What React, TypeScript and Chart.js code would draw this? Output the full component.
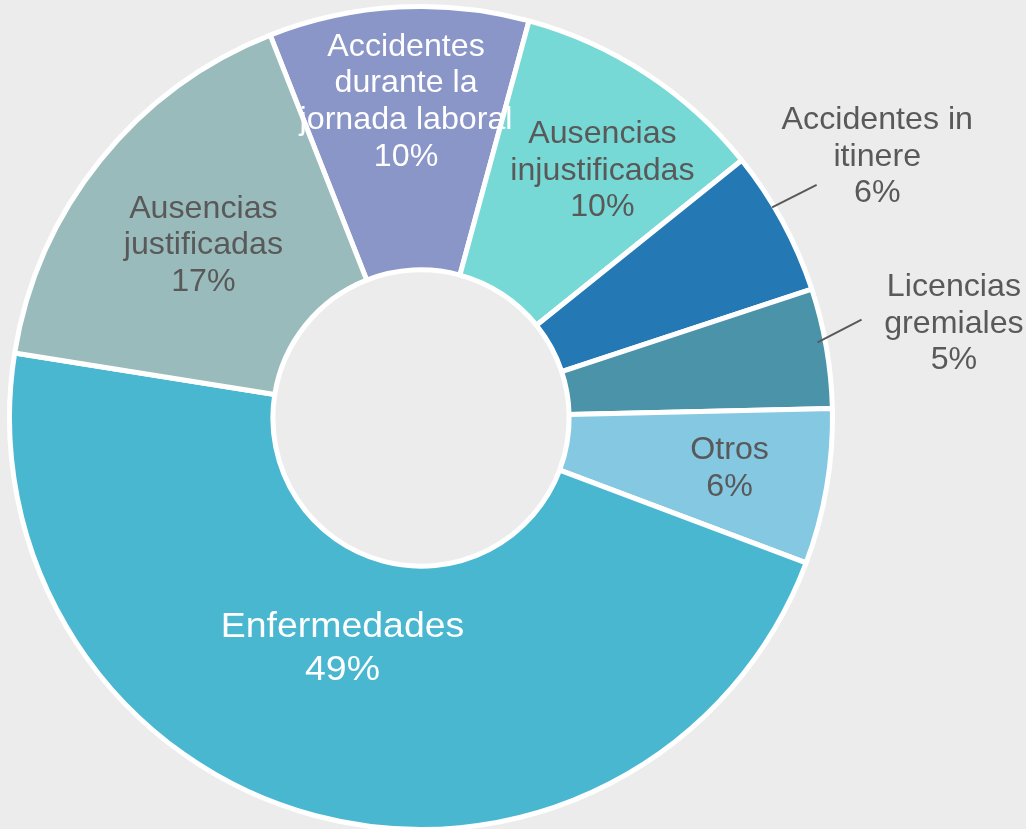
import React, { useEffect, useRef } from "react";
import { Chart, registerables } from "chart.js";

Chart.register(...registerables);

// Categories (split into display lines)
const categoryLines: string[][] = [
  ["Accidentes", "durante la", "jornada laboral"],
  ["Ausencias", "injustificadas"],
  ["Accidentes in", "itinere"],
  ["Licencias", "gremiales"],
  ["Otros"],
  ["Enfermedades"],
  ["Ausencias", "justificadas"],
];
const categories = categoryLines.map((l) => l.join(" "));

// Slice values (share of total, %)
const values = [10.2, 10.0, 5.7, 4.7, 6.1, 46.8, 16.5];

// Percent labels shown in the chart
const percentLabels = ["10%", "10%", "6%", "5%", "6%", "49%", "17%"];

const sliceColors = [
  "#8a95c8",
  "#76d9d5",
  "#2479b4",
  "#4b93a8",
  "#84c8e2",
  "#4ab7d1",
  "#99bbbb",
];

const labelColors = [
  "#ffffff",
  "#595959",
  "#595959",
  "#595959",
  "#595959",
  "#ffffff",
  "#595959",
];

// label placement relative to each slice's mid angle: angle offset (deg), radius fraction
const labelAngleOffset = [0.45, 2.84, -1.45, -0.43, -0.75, 4.17, -0.06];
const labelRadiusFrac = [0.774, 0.749, 1.28, 1.316, 0.759, 0.585, 0.678];
const labelFontSize = [30.5, 30.5, 30.5, 30.5, 30.5, 35.5, 30.5];
const labelLineHeight = [36.7, 36.7, 36.7, 36.7, 36.7, 43.3, 36.7];

// leader lines for outside labels: [startAngleOff, startRadFrac, endAngleOff, endRadFrac]
const leaderLines: (number[] | null)[] = [
  null,
  null,
  [-2.45, 0.995, -2.0, 1.116],
  [-1.0, 0.981, -2.8, 1.097],
  null,
  null,
  null,
];

const FONT_FAMILY = '"Liberation Sans", Arial, sans-serif';
const TEXT_SCALE_X = 1.055;

const labelPlugin = {
  id: "sliceLabels",
  afterDatasetsDraw(chart: any) {
    const ctx: CanvasRenderingContext2D = chart.ctx;
    const meta = chart.getDatasetMeta(0);
    const rad = Math.PI / 180;
    meta.data.forEach((arc: any, i: number) => {
      const p = arc.getProps(["x", "y", "startAngle", "endAngle", "outerRadius"], true);
      const mid = (p.startAngle + p.endAngle) / 2;
      const R = p.outerRadius;

      const leader = leaderLines[i];
      if (leader) {
        const a1 = mid + leader[0] * rad;
        const a2 = mid + leader[2] * rad;
        ctx.save();
        ctx.strokeStyle = "#595959";
        ctx.lineWidth = 2;
        ctx.beginPath();
        ctx.moveTo(p.x + Math.cos(a1) * R * leader[1], p.y + Math.sin(a1) * R * leader[1]);
        ctx.lineTo(p.x + Math.cos(a2) * R * leader[3], p.y + Math.sin(a2) * R * leader[3]);
        ctx.stroke();
        ctx.restore();
      }

      const a = mid + labelAngleOffset[i] * rad;
      const cx = p.x + Math.cos(a) * R * labelRadiusFrac[i];
      const cy = p.y + Math.sin(a) * R * labelRadiusFrac[i];
      const lines = [...categoryLines[i], percentLabels[i]];
      const size = labelFontSize[i];
      const lh = labelLineHeight[i];
      const capH = size * 0.716;
      const total = capH + (lines.length - 1) * lh;
      const top = cy - total / 2;

      ctx.save();
      ctx.font = `${size}px ${FONT_FAMILY}`;
      ctx.fillStyle = labelColors[i];
      ctx.textAlign = "center";
      ctx.textBaseline = "alphabetic";
      lines.forEach((line, j) => {
        const by = top + capH + j * lh;
        ctx.save();
        ctx.translate(cx, by);
        ctx.scale(TEXT_SCALE_X, 1);
        ctx.fillText(line, 0, 0);
        ctx.restore();
      });
      ctx.restore();
    });
  },
};

export default function App() {
  const canvasRef = useRef<HTMLCanvasElement | null>(null);

  useEffect(() => {
    if (!canvasRef.current) return;
    const chart = new Chart(canvasRef.current, {
      type: "doughnut",
      data: {
        labels: categories,
        datasets: [
          {
            data: values,
            backgroundColor: sliceColors,
            borderColor: "#ffffff",
            borderWidth: 5,
            hoverOffset: 0,
          },
        ],
      },
      options: {
        responsive: false,
        animation: false,
        devicePixelRatio: 1,
        events: [],
        rotation: -21.5,
        cutout: "36%",
        layout: {
          padding: { top: 4, left: 7, right: 191, bottom: 4 },
        },
        plugins: {
          legend: { display: false },
          tooltip: { enabled: false },
        },
      },
      plugins: [labelPlugin],
    });
    return () => chart.destroy();
  }, []);

  return (
    <div
      style={{
        position: "fixed",
        left: 0,
        top: 0,
        width: 1026,
        height: 829,
        overflow: "hidden",
        background: "#ececec",
      }}
    >
      <canvas
        ref={canvasRef}
        width={1026}
        height={836}
        style={{ display: "block", width: 1026, height: 836 }}
      />
    </div>
  );
}
